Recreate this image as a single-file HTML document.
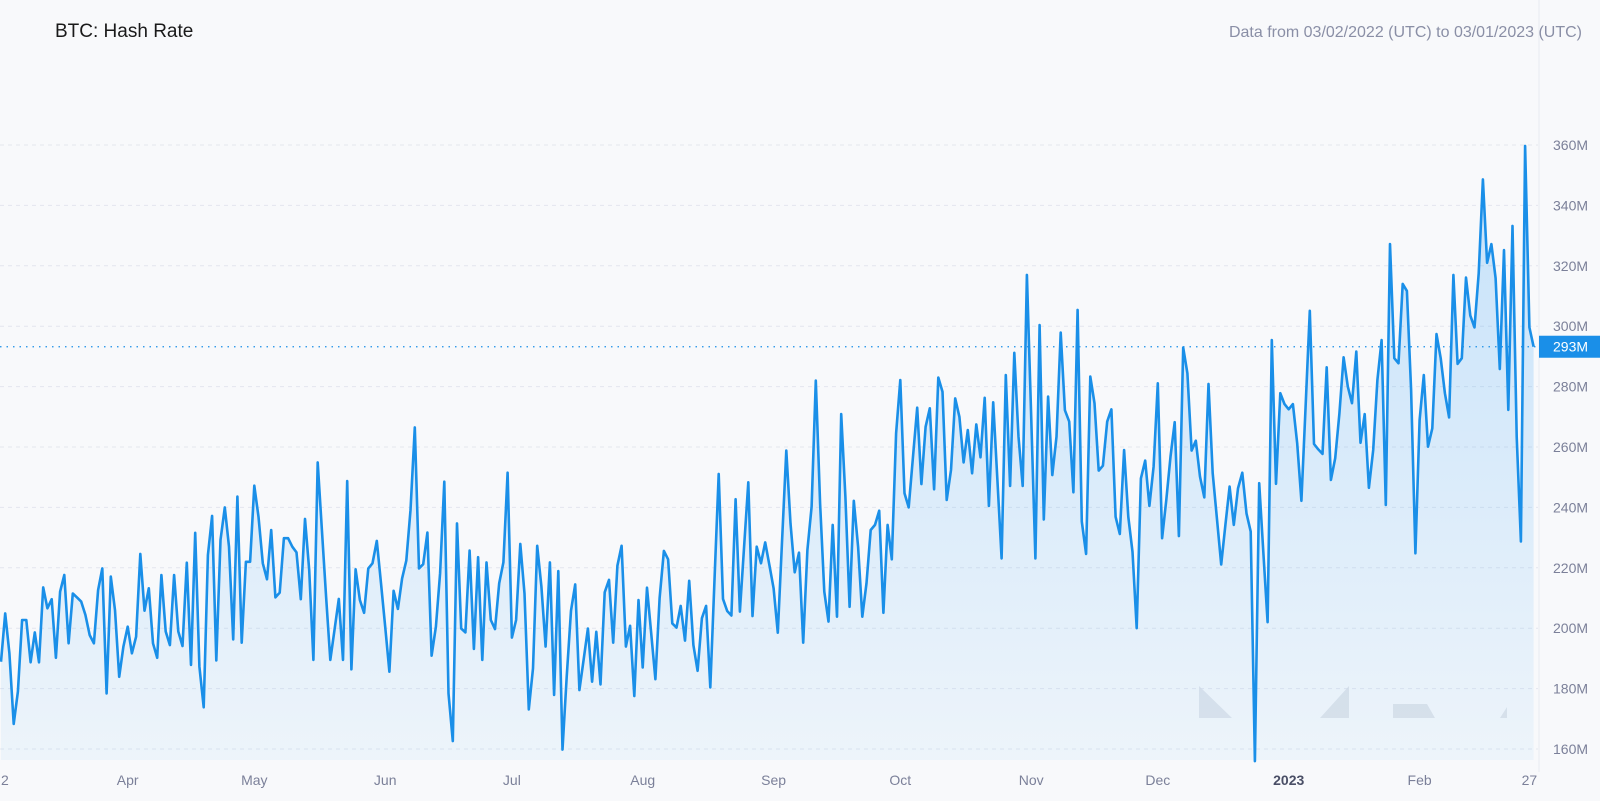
<!DOCTYPE html>
<html><head><meta charset="utf-8"><style>
html,body{margin:0;padding:0;background:#f8f9fb;}
body{width:1600px;height:796px;overflow:hidden;font-family:"Liberation Sans",sans-serif;}
</style></head><body>
<svg id="chart" width="1600" height="796" xmlns="http://www.w3.org/2000/svg">
<defs><linearGradient id="fillg" x1="0" y1="0" x2="0" y2="1">
<stop offset="0" stop-color="#2196f3" stop-opacity="0.24"/><stop offset="1" stop-color="#2196f3" stop-opacity="0.05"/></linearGradient></defs>
<text x="55" y="37" font-size="19" fill="#1a1a1a">BTC: Hash Rate</text>
<text x="1582" y="37" font-size="16" fill="#8a8fa6" text-anchor="end">Data from 03/02/2022 (UTC) to 03/01/2023 (UTC)</text>
<g id="grid"></g>
<g id="wm" fill="#d9dde4" opacity="0.7">
<polygon points="1199,686 1199,718 1232,718"/>
<polygon points="1320,718 1349,718 1349,686"/>
<polygon points="1393,704 1393,718 1435,718 1427,704"/>
<polygon points="1500,718 1507,718 1507,707"/>
</g>
<g id="series"></g>
<g id="axes"></g>
</svg>
<script>
const values=[188.9,204.9,191.7,168.3,179.0,202.7,202.7,188.7,198.6,188.7,213.5,206.6,209.6,190.2,212.1,217.6,195.0,211.5,210.2,208.8,204.4,197.7,195.0,212.6,219.8,178.4,217.1,206.0,183.9,193.9,200.5,191.7,197.2,224.6,205.8,213.2,195.0,190.2,217.6,198.9,194.4,217.6,198.9,194.1,221.7,187.8,231.6,187.3,173.8,224.2,237.2,189.3,229.2,240.0,227.0,196.3,243.6,195.2,222.0,222.0,247.2,236.9,
221.5,216.2,232.5,210.2,211.8,229.8,229.8,227.0,225.1,209.6,236.2,219.3,189.5,254.9,232.5,210.4,189.5,199.4,209.7,189.5,248.7,186.4,219.5,209.3,205.1,219.8,221.5,228.9,214.9,200.5,185.6,212.4,206.4,216.5,222.4,239.1,266.5,219.8,221.2,231.7,190.9,200.5,218.2,248.5,178.4,162.6,234.7,199.9,198.6,225.7,193.1,223.5,189.5,221.8,202.7,199.7,214.9,221.8,251.5,
196.9,202.7,227.9,211.5,173.1,186.7,227.3,213.8,193.9,221.8,177.9,218.9,159.8,183.9,205.8,214.5,179.5,189.5,199.9,182.3,198.8,181.4,211.9,216.0,195.2,220.7,227.3,193.9,200.8,177.5,209.3,187.0,213.4,198.3,183.1,209.9,225.6,222.8,201.6,200.2,207.4,195.9,215.7,194.4,185.9,203.3,207.4,180.4,216.0,251.1,209.7,205.7,204.2,242.7,205.5,227.0,248.3,204.0,227.0,
221.5,228.4,220.9,213.2,198.5,229.2,258.8,234.7,218.5,225.0,195.2,225.9,240.2,282.0,241.3,212.1,202.2,234.2,203.8,270.9,243.5,207.1,242.2,227.0,203.8,214.9,232.5,234.2,238.9,205.1,234.2,222.8,264.5,282.2,244.7,240.0,256.8,273.0,247.7,266.7,272.8,246.0,283.0,278.3,242.5,252.4,276.1,
270.0,254.9,265.6,251.3,267.5,256.6,276.3,240.5,274.8,249.1,223.1,283.8,247.1,291.2,263.4,247.1,317.0,270.0,223.1,300.4,236.0,276.7,250.7,263.4,297.9,272.2,268.4,245.0,305.4,235.3,224.6,283.3,274.5,252.2,253.8,268.4,272.5,236.9,231.2,259.0,236.9,225.3,200.0,249.6,255.5,240.5,253.5,281.1,
229.8,242.5,256.8,268.2,230.5,292.9,284.4,258.8,262.1,250.2,243.3,280.9,251.3,236.4,221.1,234.2,246.9,234.2,246.3,251.5,238.0,232.0,156.0,248.0,224.8,202.0,295.4,247.8,277.8,274.2,272.5,274.2,261.2,242.2,273.4,305.1,261.0,259.2,257.7,286.4,249.1,256.3,271.1,289.7,280.0,
274.5,291.6,261.4,270.9,246.5,259.0,282.2,295.4,240.8,327.2,289.4,287.7,314.0,311.7,278.9,224.8,268.9,283.8,260.1,266.2,297.4,289.4,277.8,269.8,317.0,287.5,289.4,316.1,303.5,299.6,317.5,348.6,321.0,327.2,315.9,285.8,325.2,272.3,333.2,263.4,228.7,359.7,299.6,293.2];
const yTicks=[160,180,200,220,240,260,280,300,320,340,360];
const xTickIdx=[0,30,60,91,121,152,183,213,244,274,305,336,362];
const xTickLabels=["2","Apr","May","Jun","Jul","Aug","Sep","Oct","Nov","Dec","2023","Feb","27"];
const lastLabel="293M";

const NS="http://www.w3.org/2000/svg";
const PL=0,PR=1538,PT=145,PB=760;
const DAY=4.222;
function xs(i){return 1+i*DAY;}
function ys(v){return PT+(360-v)*3.02;}
function mk(tag,attrs,parent){const e=document.createElementNS(NS,tag);for(const k in attrs)e.setAttribute(k,attrs[k]);parent.appendChild(e);return e;}
const grid=document.getElementById('grid'),axes=document.getElementById('axes'),ser=document.getElementById('series');

yTicks.forEach(v=>{
  const y=ys(v);
  const l=mk('line',{x1:PL,x2:PR,y1:y,y2:y,stroke:'#e3e6ee','stroke-width':1,'stroke-dasharray':'4 4'},grid);
  
  
  const t=mk('text',{x:1553,y:y+5,'font-size':14,fill:'#7b8099'},axes);
  
  
  t.textContent=v+'M';
});
const sep=mk('line',{x1:1539,x2:1539,y1:0,y2:PB+12,stroke:'#e8ebf1','stroke-width':1},axes);



xTickIdx.forEach((d,k)=>{
  const x=xs(d);
  const t=mk('text',{x:x,y:785,'font-size':14,fill:k==10?'#4a4f66':'#7b8099','text-anchor':k==0?'start':'middle','font-weight':k==10?'bold':'normal'},axes);
  
  
  t.textContent=xTickLabels[k];
});

let d='';
values.forEach((v,i)=>{d+=(i?'L':'M')+xs(i).toFixed(1)+','+ys(v).toFixed(1);});
const last=values.length-1;
const area=mk('path',{d:d+'L'+xs(last).toFixed(1)+','+PB+'L'+xs(0)+','+PB+'Z',fill:'url(#fillg)'},ser);


const line=mk('path',{d:d,fill:'none',stroke:'#1a8fe8','stroke-width':2.6,'stroke-linejoin':'round'},ser);



const ly=ys(values[last]);
const dl=mk('line',{x1:0,x2:1539,y1:ly,y2:ly,stroke:'#1a8fe8','stroke-width':1.2,'stroke-dasharray':'1.5 5'},ser);


const box=mk('rect',{x:1539,y:ly-11,width:61,height:22,fill:'#1a8fe8'},axes);


const bt=mk('text',{x:1553,y:ly+5,'font-size':14,fill:'#ffffff'},axes);


bt.textContent=lastLabel;
</script>
</body></html>
